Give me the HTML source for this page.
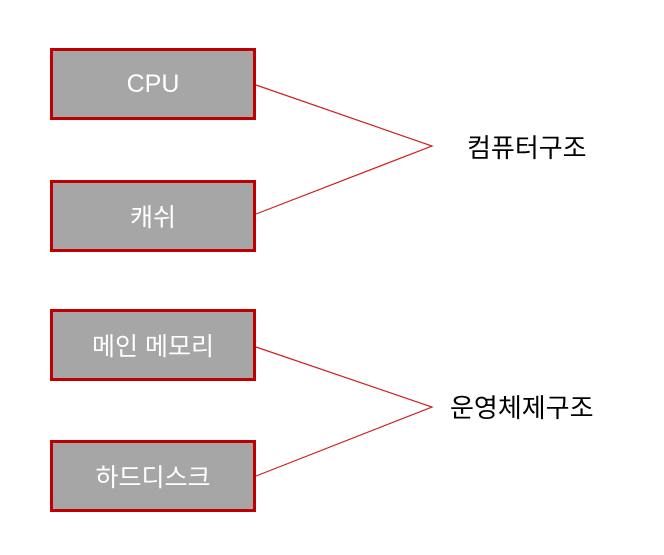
<!DOCTYPE html>
<html><head><meta charset="utf-8"><style>
body{margin:0;width:664px;height:555px;background:#fff;position:relative;overflow:hidden;font-family:"Liberation Sans","Noto Sans CJK KR",sans-serif}
.b{position:absolute;left:50px;width:200px;height:66px;border:3px solid #c00000;background:#a6a6a6;color:#fff;font-size:25px;display:flex;align-items:center;justify-content:center}
.t{position:absolute;font-size:26px;color:#000;line-height:30px}
</style></head><body>
<svg width="664" height="555" style="position:absolute;left:0;top:0">
<polyline points="256,85 432,146 256,214" fill="none" stroke="#d02020" stroke-width="1.2"/>
<polyline points="256,347 432,407 256,476" fill="none" stroke="#d02020" stroke-width="1.2"/>
</svg>
<div class="b" style="top:48px">CPU</div>
<div class="b" style="top:180px">캐쉬</div>
<div class="b" style="top:309px">메인 메모리</div>
<div class="b" style="top:440px">하드디스크</div>
<div class="t" style="left:467px;top:133px">컴퓨터구조</div>
<div class="t" style="left:450px;top:393px">운영체제구조</div>
</body></html>
